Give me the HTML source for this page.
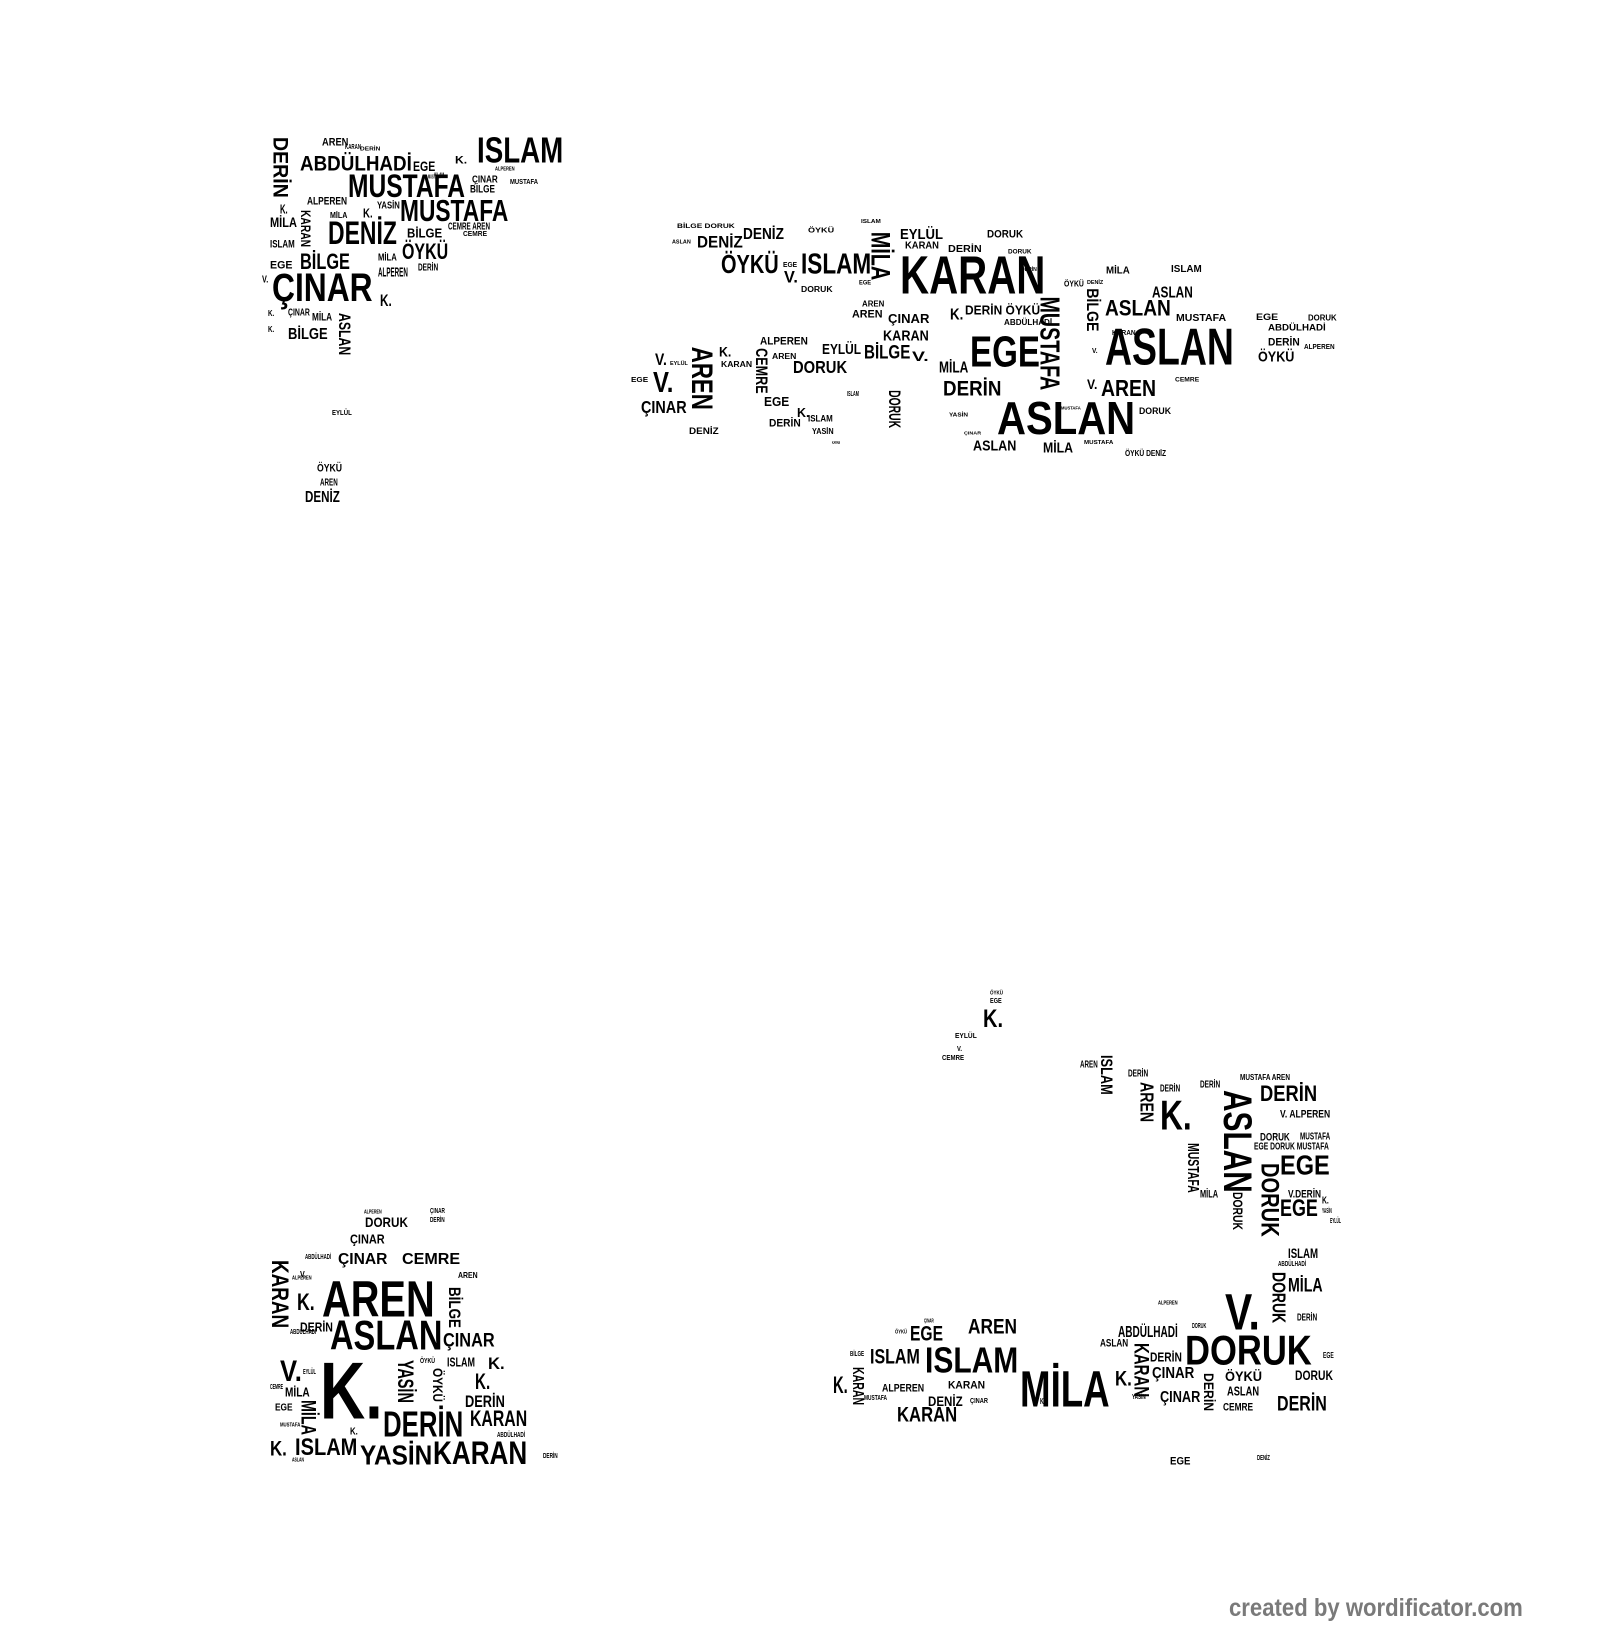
<!DOCTYPE html>
<html><head><meta charset="utf-8">
<style>
html,body{margin:0;padding:0;background:#fff;}
#c{position:relative;width:1600px;height:1640px;overflow:hidden;background:#fff;}
#c span{position:absolute;left:0;top:0;line-height:1;white-space:nowrap;transform-origin:0 0;font-family:"Liberation Sans","DejaVu Sans",sans-serif;font-weight:bold;color:#000;}
#f{position:absolute;left:1229px;top:1594px;font-family:"Liberation Sans",sans-serif;font-weight:bold;font-size:25px;color:#7a7a7a;white-space:nowrap;transform-origin:0 0;transform:scaleX(0.885);}
</style></head><body>
<div id="c"></div>
<div id="f">created by wordificator.com</div>
<script>
var W=[
// top-left cluster [text,x,y,w,h,rot]
["DERİN",272,137,15,61,1],["AREN",322,139,26,8],["ISLAM",477,137,86,26],["ABDÜLHADİ",300,157,112,15],
["EGE",413,162,22,10],["K.",455,157,12,8],["MUSTAFA",348,175,117,23],["ÇINAR",472,177,26,7],["MUSTAFA",510,181,28,5],
["BİLGE",470,186,25,8],["MUSTAFA",400,200,108,22],["ALPEREN",307,198,40,8],["YASİN",377,203,23,7],
["K.",280,205,8,9],["K.",363,209,10,9],["MİLA",270,218,27,10],["KARAN",300,210,10,37,1],["MİLA",330,212,17,6],
["DENİZ",328,222,69,23],["BİLGE",407,229,35,9],["CEMRE AREN",448,224,42,7],["CEMRE",463,233,24,5],
["ISLAM",270,241,25,8],["ÖYKÜ",402,244,46,16],["BİLGE",300,254,50,16],["MİLA",378,255,19,7],["EGE",270,262,22,8],
["ALPEREN",378,268,30,9],["DERİN",418,265,20,7],["ÇINAR",272,273,101,29],["K.",380,295,12,12],["V.",262,277,6,7],
["ÇINAR",288,310,22,7],["MİLA",312,314,20,8],["BİLGE",288,329,40,11],["ASLAN",338,313,12,42,1],["K.",268,310,6,6],["K.",268,326,6,6],
["EYLÜL",332,412,20,5],["ÖYKÜ",317,465,25,8],["AREN",320,480,18,7],["DENİZ",305,492,35,11],
["ISLAM",434,174,10,4],["MUSTAFA",428,176,12,4],["ALPEREN",495,168,20,4],["DERİN",360,148,20,4],["KARAN",345,146,16,5],
// top-middle cluster
["KARAN",900,282,145,56],["MİLA",871,246,19,70,1],["ISLAM",801,279,70,30],["ÖYKÜ",721,282,58,27],["V.",784,304,14,17],
["EGE",783,290,14,8],["DENİZ",697,253,46,17],["DENİZ",743,242,41,16],["EYLÜL",900,243,43,15],["KARAN",905,261,34,11],
["DERİN",948,266,34,11],["DORUK",987,245,36,12],["MUSTAFA",1040,340,20,136,1],["EGE",970,398,70,46],
["ASLAN",1105,386,129,54],["ASLAN",997,493,138,48],["ASLAN",1105,346,66,23],["ASLAN",1152,327,41,16],
["AREN",1101,461,55,24],["V.",1087,461,10,14],["DERİN",943,463,58,22],["BİLGE",1086,328,12,63,1],["AREN",690,413,21,92,1],
["V.",653,451,20,30],["V.",655,424,12,17],["ÇINAR",641,492,46,18],["CEMRE",755,415,12,66,1],["DORUK",793,434,54,18],
["EYLÜL",822,410,39,15],["BİLGE",864,412,46,20],["V.",912,420,16,14],["KARAN",883,391,46,15],["ÇINAR",888,366,41,13],
["K.",950,359,13,16],["DERİN ÖYKÜ",965,354,75,13],["AREN",852,361,31,12],["AREN",862,346,22,9],["ALPEREN",760,400,48,12],
["AREN",772,422,24,9],["KARAN",721,434,31,9],["K.",719,414,12,14],["DORUK",888,476,12,55,1],["EGE",764,487,25,13],["DERİN",769,519,32,12],
["DENİZ",689,531,30,10],["MİLA",939,436,29,16],["ASLAN",973,550,43,15],["MİLA",1043,553,30,15],["MUSTAFA",1176,366,50,11],
["ABDÜLHADİ",1268,381,58,10],["DERİN",1268,402,32,12],["ALPEREN",1304,409,31,8],["ÖYKÜ",1258,421,36,15],["EGE",1256,366,22,10],
["DORUK",1308,366,29,9],["ISLAM",1171,295,31,11],["MİLA",1106,297,24,11],["DORUK",1139,502,32,10],["CEMRE",1175,459,24,7],
["MUSTAFA",1084,551,29,6],["ÖYKÜ DENİZ",1125,563,41,9],["DORUK",801,325,32,9],["EGE",859,318,12,7],["BİLGE DORUK",677,236,58,7],
["ASLAN",672,260,19,6],["ÖYKÜ",808,240,26,8],["ISLAM",861,230,20,6],["ABDÜLHADİ",1004,373,48,9],["KARAN",1112,389,24,8],
["V.",1092,415,6,8],["EGE",631,457,17,8],["EYLÜL",670,436,18,6],["DORUK",1008,273,24,7],["DENİZ",1087,319,16,6],
["MUSTAFA",1061,502,20,5],["YASİN",949,511,19,6],["ÇINAR",964,538,17,5],["DERİN",1021,300,16,6],["ÖYKÜ",1064,317,20,9],
["K.",797,503,12,13],["ISLAM",808,513,25,10],["YASİN",812,531,22,9],["KARAN",832,552,8,5],["ISLAM",847,477,12,8],
// bottom-left cluster
["AREN",322,1280,113,37],["ASLAN",330,1320,112,30],["K.",320,1362,63,58],["DERİN",383,1411,80,26],["KARAN",433,1442,94,23],
["YASİN",360,1445,72,20],["ISLAM",295,1440,62,17],["K.",270,1442,17,15],["KARAN",270,1260,17,68,1],["K.",297,1295,18,17],
["DERİN",300,1323,33,9],["ÇINAR",338,1254,49,11],["CEMRE",402,1254,58,11],["DORUK",365,1218,43,10],["ÇINAR",350,1235,35,9],
["BİLGE",448,1287,12,41,1],["ÇINAR",443,1334,52,14],["V.",280,1362,22,21],["MİLA",300,1400,15,35,1],["MİLA",285,1388,25,9],
["EGE",275,1405,18,7],["YASİN",397,1360,16,43,1],["ÖYKÜ",432,1368,10,34,1],["ISLAM",447,1358,28,9],["ÖYKÜ",420,1360,15,5],
["K.",488,1358,17,12],["K.",475,1374,15,16],["DERİN",465,1396,40,12],["KARAN",470,1411,57,16],["K.",350,1429,8,7],
["ALPEREN",292,1277,20,4],["ABDÜLHADİ",305,1256,26,5],["AREN",458,1272,20,6],["EYLÜL",303,1371,13,5],["ASLAN",292,1459,12,4],
["ABDÜLHADİ",497,1434,28,5],["DERİN",543,1455,15,5],["ÇINAR",430,1210,15,5],["DERİN",430,1219,15,5],["ALPEREN",364,1211,18,4],
["ABDÜLHADİ",290,1331,26,5],["CEMRE",270,1386,13,5],["MUSTAFA",280,1424,20,4],["V.",300,1271,6,6],
// bottom-right cluster
["MİLA",1020,1370,90,37],["DORUK",1185,1335,127,30],["V.",1225,1293,35,37],["ISLAM",925,1347,93,26],["ISLAM",870,1350,50,15],
["AREN",968,1320,49,15],["EGE",910,1327,33,15],["KARAN",897,1408,60,15],["DENİZ",928,1397,35,10],["ALPEREN",882,1385,42,8],
["KARAN",948,1382,37,8],["K.",833,1378,15,17],["KARAN",852,1367,11,38,1],["K.",1115,1372,17,15],["KARAN",1133,1343,15,54,1],
["ABDÜLHADİ",1118,1327,60,11],["ASLAN",1100,1340,28,8],["DERİN",1150,1353,32,9],["ÇINAR",1152,1368,42,11],["ÇINAR",1160,1392,40,11],
["DERİN",1203,1373,10,38,1],["ÖYKÜ",1225,1372,37,10],["ASLAN",1227,1387,32,9],["CEMRE",1223,1404,30,8],["DERİN",1277,1397,50,15],
["DORUK",1295,1371,38,10],["DORUK",1272,1272,13,51,1],["MİLA",1288,1279,35,14],["ISLAM",1288,1249,30,10],["ABDÜLHADİ",1278,1263,28,5],
["DERİN",1297,1315,20,7],["ASLAN",1223,1090,29,103,1],["K.",1160,1100,32,30],["DERİN",1260,1086,57,16],["EGE",1280,1155,50,20],
["EGE",1280,1201,38,17],["DORUK",1260,1163,18,74,1],["DORUK",1232,1192,10,38,1],["MUSTAFA",1187,1143,11,50,1],
["AREN",1140,1082,13,40,1],["ISLAM",1100,1055,12,40,1],["V. ALPEREN",1280,1111,50,8],["DORUK",1260,1134,30,8],
["MUSTAFA",1300,1134,30,7],["EGE DORUK MUSTAFA",1254,1144,75,7],["V.DERİN",1288,1191,33,8],["MİLA",1200,1191,18,8],
["MUSTAFA AREN",1240,1074,50,6],["DERİN",1160,1086,20,7],["DERİN",1200,1082,20,7],["DERİN",1128,1071,20,7],["AREN",1080,1062,18,7],
["K.",983,1010,20,18],["EGE",990,1000,12,5],["ÖYKÜ",990,992,13,4],["EYLÜL",955,1035,22,5],["V.",957,1048,5,5],["CEMRE",942,1057,22,5],
["EGE",1170,1458,20,8],["DENİZ",1257,1457,13,5],["EYLÜL",1330,1220,11,5],["YASİN",1322,1210,10,5],["K.",1322,1198,7,7],
["ALPEREN",1158,1302,20,4],["DORUK",1192,1325,14,5],["EGE",1323,1352,11,6],["MUSTAFA",864,1397,23,5],["K.",1040,1398,5,6],
["ÇINAR",970,1400,18,5],["YASİN",1132,1396,14,5],["BİLGE",850,1353,14,5],["ÇINAR",924,1320,10,4],["ÖYKÜ",895,1331,12,4]
];
var c=document.getElementById('c');
W.forEach(function(e){
  if(e[1]>600 && e[2]<600){e[2]=200+(e[2]-200)*0.689;e[4]=e[4]*0.689;}
  var s=document.createElement('span');s.textContent=e[0];
  var rot=e[5];var cap=rot?e[3]:e[4];var len=rot?e[4]:e[3];
  var fs=cap/0.72;s.style.fontSize=fs+'px';c.appendChild(s);
  var nw=s.offsetWidth||1;var sx=len/nw;
  if(rot){s.style.transform='translate('+(e[1]+e[3]+0.13*fs)+'px,'+e[2]+'px) rotate(90deg) scaleX('+sx+')';}
  else{s.style.transform='translate('+e[1]+'px,'+(e[2]-0.13*fs)+'px) scaleX('+sx+')';}
});
</script>
</body></html>
